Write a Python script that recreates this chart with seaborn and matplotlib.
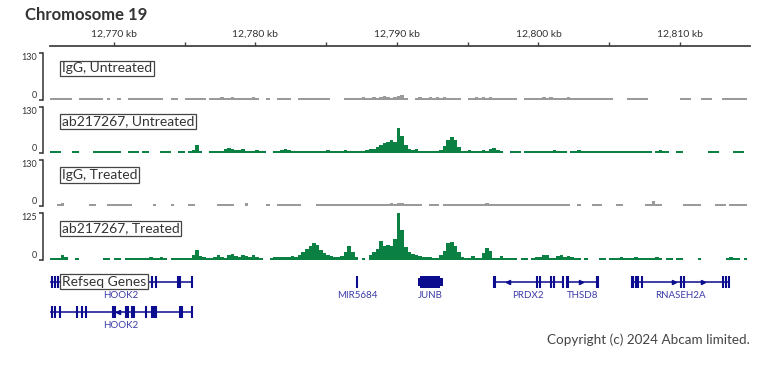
import numpy as np
import pandas as pd
import matplotlib.pyplot as plt
import matplotlib.patches as mpatches
import seaborn as sns

sns.set_theme(style='white')
plt.rcParams['font.family'] = ['Lato', 'DejaVu Sans']

W, H = 768, 366
GREEN = '#0b8043'
GREY = '#9a9a9a'
GENE = '#0c0c8e'
GENE_TXT = '#3b3ba8'
INK = '#333333'

# genomic window (kb) and signal bins
view_kb = (12765.48, 12814.95)
start_kb = 12765.5
bin_kb = 0.25

igg_untreated = [
    5, 6, 5, 5, 6, 5, 0, 0, 6, 5, 5, 6, 5, 6, 5, 0, 5, 0, 0, 5,
    0, 0, 6, 5, 6, 5, 6, 6, 5, 6, 6, 5, 0, 0, 6, 5, 0, 0, 5, 6,
    5, 6, 5, 5, 0, 6, 5, 6, 7, 6, 6, 7, 6, 5, 6, 5, 6, 7, 5, 0,
    0, 5, 0, 0, 6, 5, 6, 5, 0, 0, 5, 6, 5, 6, 5, 6, 5, 6, 5, 0,
    0, 0, 0, 6, 5, 6, 5, 6, 7, 6, 6, 7, 6, 8, 12, 7, 6, 7, 10, 14,
    6, 0, 0, 6, 7, 6, 6, 8, 6, 7, 6, 7, 6, 6, 5, 6, 0, 0, 6, 5,
    7, 6, 8, 6, 7, 6, 6, 5, 6, 5, 6, 5, 0, 0, 6, 6, 5, 6, 6, 7,
    6, 7, 6, 6, 5, 6, 7, 6, 6, 5, 6, 6, 5, 6, 6, 5, 6, 5, 6, 0,
    0, 0, 0, 5, 6, 6, 5, 6, 6, 0, 0, 0, 0, 0, 0, 0, 0, 0, 5, 6,
    6, 0, 0, 0, 5, 6, 5, 0, 0, 0, 5, 6, 6, 5, 6, 6, 5, 0,
]

ab_untreated = [
    5, 5, 5, 0, 0, 0, 5, 5, 0, 0, 0, 0, 5, 6, 5, 5, 6, 5, 5, 5,
    0, 0, 5, 5, 5, 0, 5, 5, 0, 0, 0, 6, 5, 6, 0, 0, 5, 7, 0, 7,
    8, 22, 6, 0, 0, 6, 7, 6, 6, 10, 15, 12, 9, 8, 10, 7, 6, 7, 8, 7,
    5, 0, 0, 6, 6, 9, 10, 8, 6, 7, 7, 6, 7, 6, 7, 7, 7, 6, 8, 6,
    7, 7, 6, 8, 6, 7, 6, 5, 5, 8, 10, 12, 16, 22, 28, 32, 38, 30, 70, 48,
    24, 12, 8, 10, 6, 7, 6, 7, 6, 6, 8, 20, 36, 44, 36, 16, 7, 5, 8, 5,
    5, 7, 8, 6, 10, 14, 8, 6, 0, 0, 5, 5, 5, 0, 5, 6, 5, 6, 7, 6,
    7, 6, 8, 7, 7, 5, 0, 5, 6, 9, 6, 5, 5, 5, 7, 6, 7, 6, 7, 6,
    7, 6, 5, 5, 6, 6, 5, 7, 6, 5, 0, 6, 8, 6, 5, 0, 0, 5, 5, 0,
    0, 0, 0, 0, 0, 0, 5, 5, 5, 0, 0, 0, 0, 5, 6, 5, 0, 0,
]

igg_treated = [
    0, 0, 6, 8, 0, 0, 0, 0, 0, 0, 0, 6, 6, 0, 0, 0, 5, 6, 5, 6,
    5, 6, 5, 0, 0, 0, 0, 0, 0, 5, 0, 0, 0, 0, 5, 0, 0, 0, 0, 6,
    5, 0, 0, 0, 0, 0, 0, 6, 5, 6, 5, 5, 0, 0, 0, 9, 0, 0, 0, 0,
    0, 5, 0, 0, 6, 5, 6, 5, 6, 6, 6, 0, 0, 0, 0, 6, 5, 6, 6, 6,
    5, 6, 6, 5, 6, 6, 5, 6, 6, 7, 6, 6, 7, 6, 6, 7, 8, 7, 9, 8,
    7, 6, 7, 6, 6, 0, 0, 6, 6, 5, 0, 6, 6, 7, 6, 6, 7, 6, 6, 7,
    6, 7, 6, 8, 7, 6, 6, 7, 6, 6, 6, 6, 5, 6, 6, 5, 6, 6, 6, 6,
    6, 5, 6, 6, 6, 6, 5, 0, 0, 6, 0, 0, 0, 6, 6, 6, 0, 0, 0, 0,
    6, 6, 0, 0, 0, 0, 0, 0, 6, 6, 14, 7, 6, 0, 0, 0, 0, 0, 0, 6,
    6, 6, 6, 6, 0, 0, 0, 0, 6, 6, 6, 0, 6, 7, 6, 6, 5, 0,
]

ab_treated = [
    4, 5, 6, 12, 8, 0, 0, 5, 0, 0, 0, 0, 0, 0, 0, 4, 5, 0, 4, 5,
    0, 5, 6, 5, 4, 6, 5, 6, 7, 6, 5, 7, 6, 0, 5, 6, 4, 5, 4, 5,
    12, 26, 10, 7, 6, 6, 8, 14, 8, 6, 12, 16, 10, 8, 14, 10, 7, 12, 8, 5,
    0, 0, 5, 7, 7, 8, 9, 7, 10, 8, 14, 20, 30, 38, 46, 40, 26, 18, 14, 10,
    7, 7, 10, 22, 38, 22, 7, 0, 5, 0, 12, 22, 30, 50, 36, 40, 36, 55, 125, 80,
    35, 20, 15, 12, 10, 7, 8, 7, 6, 6, 12, 25, 44, 48, 38, 22, 8, 5, 5, 10,
    6, 6, 18, 32, 24, 6, 5, 10, 6, 5, 5, 5, 0, 5, 6, 0, 6, 7, 8, 14,
    12, 6, 6, 10, 12, 9, 11, 9, 6, 5, 0, 6, 0, 0, 0, 5, 5, 0, 5, 5,
    6, 8, 6, 5, 5, 7, 5, 6, 6, 5, 5, 7, 5, 0, 5, 5, 0, 5, 5, 0,
    0, 0, 0, 5, 0, 0, 0, 0, 0, 0, 0, 5, 7, 6, 5, 0, 5, 0,
]

track_names = ['IgG, Untreated', 'ab217267, Untreated', 'IgG, Treated', 'ab217267, Treated']
track_values = [igg_untreated, ab_untreated, igg_treated, ab_treated]
track_max = [130, 130, 130, 125]
track_colors = [GREY, GREEN, GREY, GREEN]

ruler_major = [12770, 12780, 12790, 12800, 12810]
ruler_minor = [12775, 12785, 12795, 12805]

# genes: name, row, span, exon positions, strand arrows, label position
genes = [
    ('HOOK2', 0, (12765.5, 12775.52),
     [12765.62, 12765.83, 12766.05, 12767.39, 12768.02, 12770.0, 12771.28,
      12772.41, 12772.69, 12772.97, 12774.53, 12774.67, 12775.52], [], 12770.5),
    ('HOOK2', 1, (12765.5, 12775.52),
     [12765.62, 12765.83, 12766.19, 12767.39, 12767.74, 12768.02, 12769.95, 12770.05,
      12770.85, 12770.99, 12771.28, 12771.42, 12772.26, 12772.69, 12772.83,
      12772.97, 12774.67, 12774.81, 12775.52], [(12770.3, '<')], 12770.5),
    ('MIR5684', 0, None, [12787.18], [], 12787.18),
    ('PRDX2', 0, (12796.86, 12801.74),
     [12796.86, 12796.95, 12799.9, 12800.11, 12800.89, 12801.1, 12801.74],
     [(12797.85, '<')], 12799.26),
    ('THSD8', 0, (12802.02, 12804.21),
     [12802.02, 12802.12, 12804.14, 12804.24], [(12803.01, '>')], 12803.15),
    ('RNASEH2A', 0, (12806.61, 12813.54),
     [12806.61, 12806.7, 12806.9, 12807.04, 12807.32, 12810.08, 12810.29,
      12813.04, 12813.26, 12813.47], [(12809.58, '>'), (12811.63, '>')], 12810.0),
]
junb_utr = (12791.49, 12793.25)
junb_cds = (12791.63, 12793.04)
junb_label = 12792.34


def px_box(x0, y0, x1, y1):
    return [x0 / W, 1 - y1 / H, (x1 - x0) / W, (y1 - y0) / H]


fig = plt.figure(figsize=(W / 100, H / 100), dpi=100)

fig.text(25 / W, 1 - 15 / H, 'Chromosome 19', fontsize=12, fontweight='bold',
         color=INK, va='center', ha='left')

# ruler
ax_r = fig.add_axes(px_box(50, 46, 750, 47))
ax_r.set_xlim(*view_kb)
ax_r.set_yticks([])
for s in ['left', 'right', 'bottom']:
    ax_r.spines[s].set_visible(False)
ax_r.spines['top'].set_color('#444444')
ax_r.spines['top'].set_linewidth(1.3)
ax_r.xaxis.tick_top()
ax_r.set_xticks(ruler_major)
ax_r.set_xticklabels([f'{v:,} kb' for v in ruler_major])
ax_r.set_xticks(ruler_minor, minor=True)
ax_r.tick_params(axis='x', which='both', direction='out', length=3, width=1,
                 color='#444444', labelsize=7.5, labelcolor=INK, pad=2)
ax_r.patch.set_alpha(0)

# signal tracks
track_px = [(53, 100), (107, 153), (160, 206), (213, 260)]
label_y = [68.5, 121.5, 175, 228.5]
edges = list(start_kb + bin_kb * np.arange(len(ab_treated) + 1))
centers = [e + bin_kb / 2 for e in edges[:-1]]

for name, vals, ymax, col, (top, bot), ly in zip(track_names, track_values, track_max,
                                                  track_colors, track_px, label_y):
    ax = fig.add_axes(px_box(50, top, 750, bot))
    df = pd.DataFrame({'kb': centers, 'signal': vals})
    sns.histplot(data=df, x='kb', weights='signal', bins=edges, element='step',
                 fill=True, color=col, alpha=1, linewidth=0, ax=ax)
    ax.set_xlim(*view_kb)
    ax.set_ylim(0, ymax)
    ax.set_xticks([])
    ax.set_xlabel('')
    ax.set_ylabel('')
    for s in ['top', 'right', 'bottom']:
        ax.spines[s].set_visible(False)
    ax.spines['left'].set_position(('outward', 5))
    ax.spines['left'].set_color(INK)
    ax.spines['left'].set_linewidth(1.1)
    ax.set_yticks([0, ymax])
    ax.set_yticklabels(['0', str(ymax)])
    ax.tick_params(axis='y', left=True, length=3, width=1.1, color=INK,
                   labelsize=6.5, labelcolor=INK, pad=1.5)
    lbls = ax.get_yticklabels()
    lbls[0].set_va('bottom')
    lbls[1].set_va('top')
    ax.patch.set_alpha(0)
    fig.text(62 / W, 1 - ly / H, name, fontsize=10, color=INK, ha='left', va='center',
             bbox=dict(boxstyle='square,pad=0.12', fc='white', ec='#444444', lw=0.9))

# genes
ax_g = fig.add_axes(px_box(50, 265, 750, 335))
ax_g.set_xlim(*view_kb)
ax_g.set_ylim(70, 0)
ax_g.axis('off')
row_y = [17, 47]
for name, row, span, exons, arrows, lx in genes:
    y = row_y[row]
    if span is not None:
        ax_g.plot(span, [y, y], color=GENE, lw=1.1, solid_capstyle='butt')
    ax_g.vlines(exons, y - 6, y + 6, color=GENE, lw=1.5)
    for ax_x, m in arrows:
        ax_g.plot(ax_x, y, marker=m, ms=3, color=GENE, mec=GENE)
    ax_g.text(lx, y + 14, name, fontsize=7, color=GENE_TXT, ha='center', va='center')

y = row_y[0]
ax_g.add_patch(mpatches.Rectangle((junb_utr[0], y - 4), junb_utr[1] - junb_utr[0], 8,
                                  color=GENE, lw=0))
ax_g.add_patch(mpatches.Rectangle((junb_cds[0], y - 6), junb_cds[1] - junb_cds[0], 12,
                                  color=GENE, lw=0))
ax_g.text(junb_label, y + 14, 'JUNB', fontsize=7, color=GENE_TXT, ha='center', va='center')

fig.text(62 / W, 1 - 281.5 / H, 'Refseq Genes', fontsize=10, color=INK, ha='left', va='center',
         bbox=dict(boxstyle='square,pad=0.12', fc='white', ec='#444444', lw=0.9))

fig.text(750 / W, 1 - 340 / H, 'Copyright (c) 2024 Abcam limited.', fontsize=9.7,
         color='#444444', ha='right', va='center')

fig.savefig('out.png', dpi=100)
